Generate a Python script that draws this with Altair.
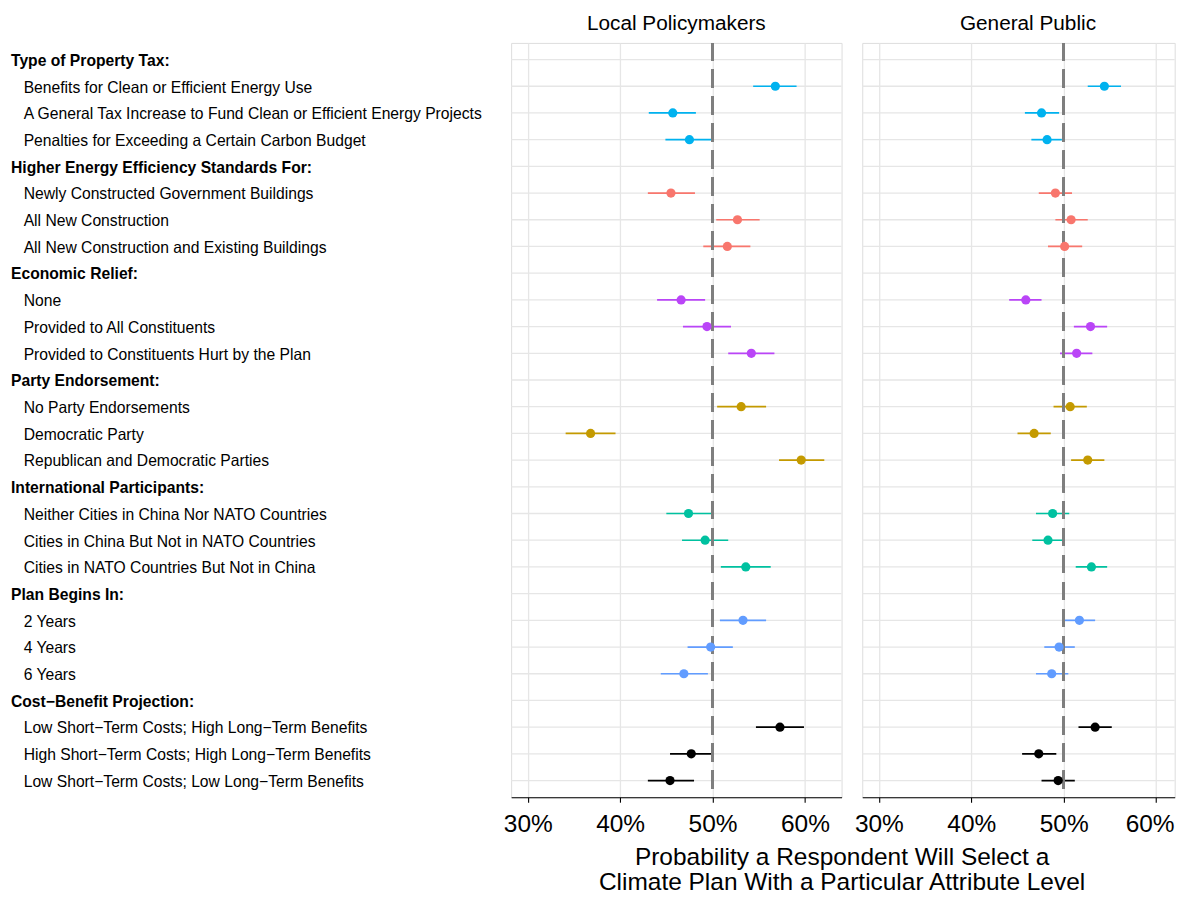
import altair as alt
import pandas as pd

# ---------------- data ----------------
group_headers = [
    "Type of Property Tax:",
    "Higher Energy Efficiency Standards For:",
    "Economic Relief:",
    "Party Endorsement:",
    "International Participants:",
    "Plan Begins In:",
    "Cost\u2212Benefit Projection:",
]
group_levels = [
    ["Benefits for Clean or Efficient Energy Use",
     "A General Tax Increase to Fund Clean or Efficient Energy Projects",
     "Penalties for Exceeding a Certain Carbon Budget"],
    ["Newly Constructed Government Buildings",
     "All New Construction",
     "All New Construction and Existing Buildings"],
    ["None",
     "Provided to All Constituents",
     "Provided to Constituents Hurt by the Plan"],
    ["No Party Endorsements",
     "Democratic Party",
     "Republican and Democratic Parties"],
    ["Neither Cities in China Nor NATO Countries",
     "Cities in China But Not in NATO Countries",
     "Cities in NATO Countries But Not in China"],
    ["2 Years", "4 Years", "6 Years"],
    ["Low Short\u2212Term Costs; High Long\u2212Term Benefits",
     "High Short\u2212Term Costs; High Long\u2212Term Benefits",
     "Low Short\u2212Term Costs; Low Long\u2212Term Benefits"],
]
group_colors = ["#00B2EF", "#F8766D", "#BA45F7", "#C49A00", "#00C1A0", "#619CFF", "#000000"]

# Local policymakers (percent)
lp_est = [56.8, 45.7, 47.5, 45.5, 52.7, 51.6, 46.6, 49.4, 54.2, 53.1, 36.8, 59.6,
          47.4, 49.2, 53.6, 53.3, 49.8, 46.9, 57.3, 47.7, 45.4]
lp_lo = [54.4, 43.1, 44.9, 43.0, 50.4, 49.0, 44.0, 46.8, 51.7, 50.5, 34.1, 57.2,
         45.0, 46.7, 50.9, 50.8, 47.3, 44.4, 54.7, 45.4, 43.0]
lp_hi = [59.1, 48.2, 50.1, 48.1, 55.1, 54.1, 49.2, 52.0, 56.7, 55.8, 39.5, 62.1,
         49.9, 51.7, 56.3, 55.8, 52.2, 49.5, 59.9, 50.0, 48.0]

# General public (percent)
gp_est = [54.4, 47.6, 48.2, 49.1, 50.8, 50.1, 45.9, 52.9, 51.4, 50.7, 46.8, 52.6,
          48.8, 48.3, 53.0, 51.7, 49.5, 48.7, 53.4, 47.3, 49.4]
gp_lo = [52.6, 45.8, 46.5, 47.3, 49.1, 48.3, 44.1, 51.1, 49.6, 48.9, 45.0, 50.8,
         47.0, 46.6, 51.3, 50.1, 47.9, 47.0, 51.6, 45.5, 47.6]
gp_hi = [56.2, 49.5, 49.8, 50.9, 52.6, 52.0, 47.6, 54.7, 53.1, 52.5, 48.6, 54.4,
         50.6, 50.1, 54.7, 53.4, 51.2, 50.5, 55.2, 49.2, 51.2]

# ---------------- tables ----------------
row_order, header_rows, level_rows = [], [], []
for h, lv in zip(group_headers, group_levels):
    row_order.append(h)
    header_rows.append({"label": h})
    for l in lv:
        row_order.append(l)
        level_rows.append({"label": l, "group": h})

all_rows = pd.DataFrame({"label": row_order})
headers_df = pd.DataFrame(header_rows)
levels_df = pd.DataFrame(level_rows)


def panel_df(est, lo, hi):
    d = levels_df.copy()
    d["est"], d["lo"], d["hi"] = est, lo, hi
    return d


FONT = "Liberation Sans"
GRID = "#E6E6E6"
Y = alt.Y("label:N", sort=row_order,
          scale=alt.Scale(type="point", domain=row_order, padding=0.623),
          axis=None)
COLOR = alt.Color("group:N", scale=alt.Scale(domain=group_headers, range=group_colors),
                  legend=None)


def make_panel(df, title, xmax, width, show_labels, axis_title,
               last_label_offset=0, title_dx=0):
    axis_kw = dict(values=[30, 40, 50, 60], labelExpr="datum.value + '%'",
                   grid=True, gridColor=GRID, gridWidth=1.3,
                   domainColor="black", domainWidth=1.1,
                   tickColor="black", tickSize=5, tickWidth=1.1,
                   labelFont=FONT, labelFontSize=24.5, labelColor="black",
                   labelPadding=10, labelFlush=False)
    if last_label_offset:
        axis_kw["labelOffset"] = {"condition": {"test": "datum.value === 60",
                                                "value": last_label_offset},
                                  "value": 0}
    if axis_title is not None:
        axis_kw.update(title=axis_title, titleFont=FONT, titleFontSize=24.5,
                       titleFontWeight="normal", titleColor="black",
                       titleX=width, titleY=67.7, titleAlign="center",
                       titleBaseline="alphabetic", titleLineHeight=25)
    else:
        axis_kw.update(title=None)
    X = alt.X("lo:Q", scale=alt.Scale(domain=[28.2, xmax], nice=False, zero=False),
              axis=alt.Axis(**axis_kw))

    grid = alt.Chart(all_rows).mark_rule(color=GRID, strokeWidth=1.3).encode(y=Y)
    bars = alt.Chart(df).mark_rule(strokeWidth=1.7).encode(x=X, x2="hi:Q", y=Y, color=COLOR)
    ref = alt.Chart(all_rows).mark_rule(color="#7F7F7F", strokeWidth=2,
                                        strokeDash=[18, 9]).encode(x=alt.datum(50))
    pts = alt.Chart(df).mark_circle(size=85, opacity=1).encode(x="est:Q", y=Y, color=COLOR)
    layers = [grid, bars, ref, pts]
    if show_labels:
        htxt = alt.Chart(headers_df).mark_text(
            align="left", baseline="alphabetic", dy=6.3, font=FONT, fontSize=15.7,
            fontWeight="bold", color="black").encode(x=alt.value(-501), y=Y, text="label:N")
        ltxt = alt.Chart(levels_df).mark_text(
            align="left", baseline="alphabetic", dy=6.3, font=FONT, fontSize=15.7,
            color="black").encode(x=alt.value(-488.3), y=Y, text="label:N")
        layers += [htxt, ltxt]
    return alt.layer(*layers).properties(
        width=width, height=755.6,
        title=alt.TitleParams(title, font=FONT, fontSize=20.8, fontWeight="normal",
                              color="black", anchor="middle", frame="group",
                              baseline="alphabetic", offset=-8.8, dx=title_dx))


left = make_panel(panel_df(lp_est, lp_lo, lp_hi), "Local Policymakers", 63.97, 331, True,
                  ["Probability a Respondent Will Select a",
                   "Climate Plan With a Particular Attribute Level"])
right = make_panel(panel_df(gp_est, gp_lo, gp_hi), "General Public", 62.01, 313, False, None,
                   last_label_offset=-6.5, title_dx=9.5)

chart = alt.hconcat(left, right, spacing=20.7, bounds="flush").resolve_scale(
    x="independent").properties(
    padding={"left": 2, "top": 3.2, "right": 0, "bottom": 0}
).configure_view(stroke=None).configure(background="white")

chart.save("out.html", embed_options={"renderer": "svg", "actions": False})
